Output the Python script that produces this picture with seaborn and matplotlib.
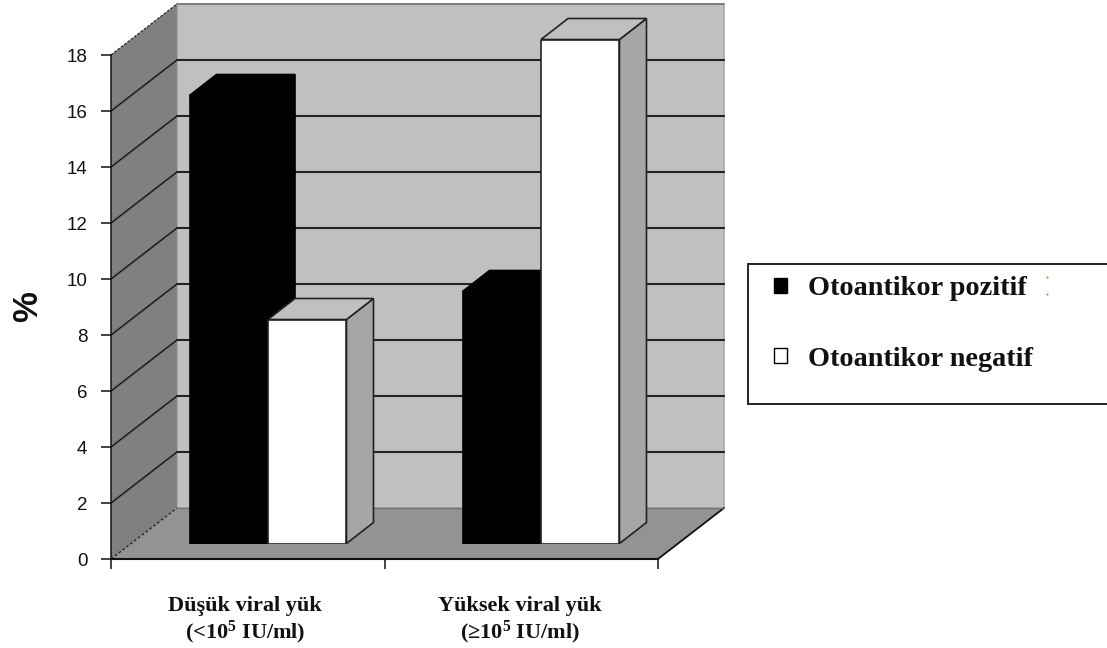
import matplotlib
matplotlib.use("Agg")
import matplotlib.pyplot as plt
from matplotlib.patches import Patch, Polygon, Rectangle
import pandas as pd
import seaborn as sns

categories = ["Düşük viral yük\n(<10$^{5}$ IU/ml)", "Yüksek viral yük\n(≥10$^{5}$ IU/ml)"]
series_names = ["Otoantikor pozitif", "Otoantikor negatif"]
pozitif = [16, 9]
negatif = [8, 18]
y_ticks = [0, 2, 4, 6, 8, 10, 12, 14, 16, 18]

W, H = 1107, 648
WALL_DEPTH = (66, -51)
BAR_DEPTH = (27, -21)
SERIF = "Liberation Serif"
SANS = "Liberation Sans"

sns.set_theme(style="white")
plt.rcParams["font.family"] = [SANS, "DejaVu Sans"]
plt.rcParams["mathtext.default"] = "regular"

table = pd.DataFrame({
    "kategori": categories * 2,
    "grup": [series_names[0]] * 2 + [series_names[1]] * 2,
    "yuzde": pozitif + negatif,
})

fig = plt.figure(figsize=(W / 100, H / 100), dpi=100, facecolor="white")


def px_axes(left, right, top, bottom):
    return fig.add_axes([left / W, 1 - bottom / H, (right - left) / W, (bottom - top) / H])


# Pixel-space layer holding the walls, floor, gridlines and bar depth faces
scene = fig.add_axes([0, 0, 1, 1], zorder=0)
scene.set_xlim(0, W)
scene.set_ylim(H, 0)
scene.axis("off")

# Front plane of the chart: value axis and category axis
front = px_axes(111, 658, 55, 559)
front.set_zorder(3)
front.patch.set_alpha(0)
front.set_xlim(0, 2)
front.set_ylim(0, 18)
sns.despine(ax=front)
for side in ("left", "bottom"):
    front.spines[side].set_color("#111111")
front.spines["left"].set_linewidth(1.1)
front.spines["bottom"].set_linewidth(1.5)
front.set_yticks(y_ticks)
front.set_xticks([0, 1, 2])
front.set_xticklabels([])
front.tick_params(axis="both", which="major", length=7, width=1.1, color="#111111",
                  left=True, bottom=True)
front.tick_params(axis="y", labelsize=13.5, pad=10, labelcolor="#111111")
front.set_xticks([0.49, 1.495], minor=True)
front.set_xticklabels(categories, minor=True, family=SERIF, weight="bold",
                      fontsize=16, linespacing=1.1, color="#111111")
front.tick_params(axis="x", which="minor", length=0, pad=27)
front.set_ylabel("%", fontsize=25, weight="bold", color="#111111", labelpad=16)


def to_px(axes, x, y):
    dx, dy = axes.transData.transform((x, y))
    return dx, H - dy


dx, dy = WALL_DEPTH
fl = to_px(front, 0, 0)
fr = to_px(front, 2, 0)
tl = to_px(front, 0, 18)
back = lambda p: (p[0] + dx, p[1] + dy)

scene.add_patch(Polygon([back(tl), (back(fr)[0], back(tl)[1]), back(fr), back(fl)],
                        fc="#c0c0c0", ec="#a8a8a8", lw=1.2, zorder=1))
scene.add_patch(Polygon([fl, fr, back(fr), back(fl)], fc="#939393", ec="none", zorder=2))
scene.add_patch(Polygon([fl, back(fl), back(tl), tl], fc="#808080", ec="none", zorder=2))
scene.plot([fr[0], back(fr)[0]], [fr[1], back(fr)[1]], color="#111111", lw=1.3, zorder=3)
scene.plot([fl[0], back(fl)[0]], [fl[1], back(fl)[1]], color="#222222", lw=1, ls=(0, (2, 1.5)), zorder=3)
scene.plot([back(fl)[0], back(fr)[0]], [back(fl)[1]] * 2, color="#707070", lw=1, zorder=3)

# Gridlines run along the side wall, then across the back wall
for tick in y_ticks[1:]:
    start = to_px(front, 0, tick)
    corner = back(start)
    shade = "#808080" if tick == y_ticks[-1] else "#222222"
    end_x = back(fr)[0]
    if tick != y_ticks[-1]:
        scene.plot([start[0], corner[0]], [start[1], corner[1]], color=shade, lw=1.2, zorder=3)
    else:
        scene.plot([start[0], corner[0]], [start[1], corner[1]], color="#333333", lw=1,
                   ls=(0, (2, 1)), zorder=3)
    scene.plot([corner[0], end_x], [corner[1]] * 2, color=shade, lw=1.5, zorder=3)

# Bars stand a little behind the front plane, on the floor
bars = px_axes(131.5, 677.5, 39.5, 543.5)
bars.set_zorder(2)
bars.patch.set_alpha(0)
sns.barplot(data=table, x="kategori", y="yuzde", hue="grup", hue_order=series_names,
            order=categories, palette=["black", "white"], width=0.575, gap=0,
            edgecolor="#222222", linewidth=1.2, saturation=1, legend=False, ax=bars)
bars.set_xlim(-0.5, 1.5)
bars.set_ylim(0, 18)
bars.axis("off")

bx, by = BAR_DEPTH
for rect in sorted(bars.patches, key=lambda r: r.get_x()):
    x0, x1 = rect.get_x(), rect.get_x() + rect.get_width()
    h = rect.get_height()
    a = to_px(bars, x0, h)
    b = to_px(bars, x1, h)
    c = to_px(bars, x1, 0)
    shift = lambda p: (p[0] + bx, p[1] + by)
    dark = rect.get_facecolor()[0] < 0.5
    top_c, side_c, edge_c = ("black", "black", "black") if dark else ("#c0c0c0", "#a6a6a6", "#222222")
    if dark:
        rect.set_edgecolor("black")
    scene.add_patch(Polygon([c, shift(c), shift(b), b], fc=side_c, ec=edge_c, lw=1.2, zorder=5))
    scene.add_patch(Polygon([a, b, shift(b), shift(a)], fc=top_c, ec=edge_c, lw=1.2, zorder=5))

# Legend: a frame running off the right edge with the two series inside
scene.add_patch(Rectangle((748, 264), 400, 140, fc="white", ec="#222222", lw=1.4, zorder=6))
scene.plot([1047, 1047], [277, 294], ls="none", marker="o", ms=1.6, mew=0, color="#d9894a", zorder=7)
handles = [Patch(fc="black", ec="black", lw=1), Patch(fc="white", ec="black", lw=1)]
legend = fig.legend(handles, series_names, loc="center left",
                    bbox_to_anchor=(749 / W, 1 - 324 / H), frameon=False,
                    prop={"family": SERIF, "weight": "bold", "size": 20.3},
                    handlelength=0.46, handleheight=0.46, handletextpad=0.72, labelspacing=1.6)
legend.set_zorder(8)
for label in legend.get_texts():
    label.set_color("#111111")

fig.savefig("out.png", dpi=100)
